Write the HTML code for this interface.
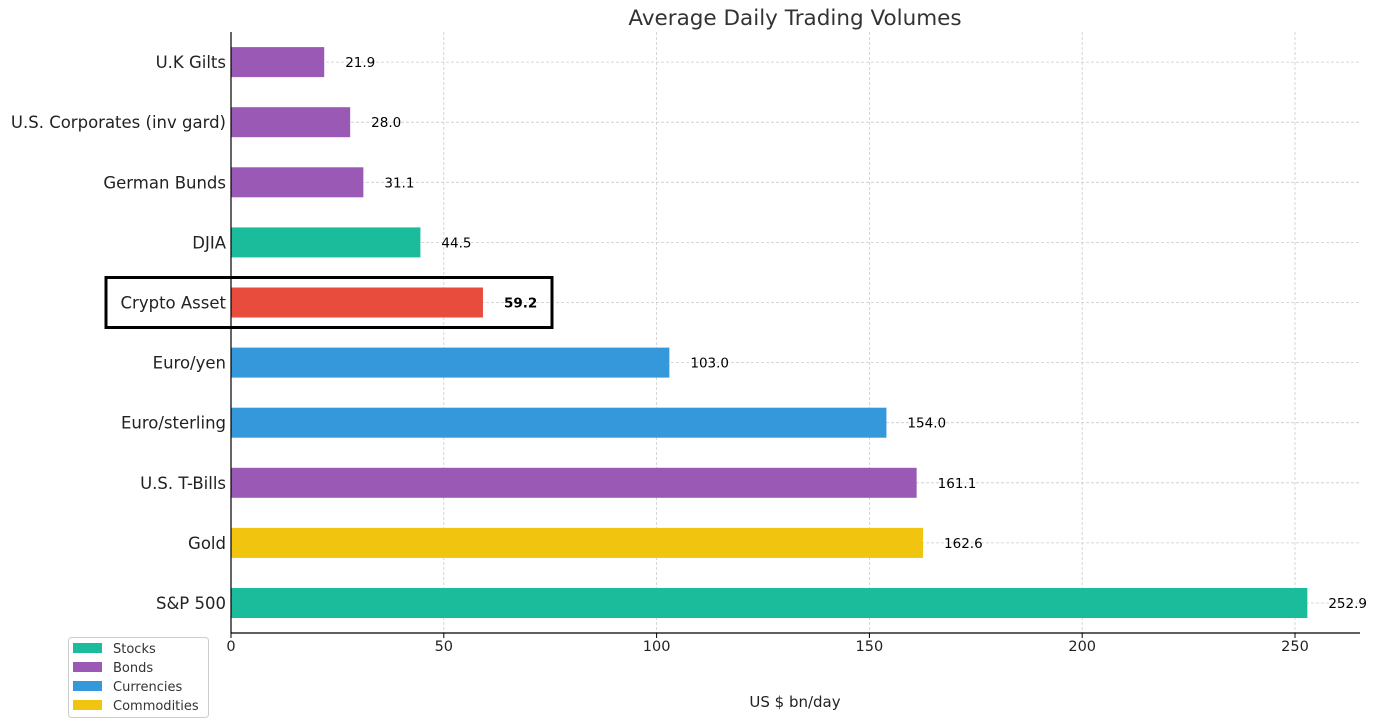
<!DOCTYPE html>
<html><head><meta charset="utf-8"><style>
body{margin:0;background:#fff;}
svg{display:block;font-family:"DejaVu Sans","Liberation Sans",sans-serif;}
</style></head><body>
<svg id="chart" width="1377" height="727">
<text x="795" y="25" text-anchor="middle" font-size="21.5" fill="#333">Average Daily Trading Volumes</text>
<g id="grid"></g><g id="bars"></g>
<line x1="231" y1="32" x2="231" y2="633" stroke="#000" stroke-width="1.2"/>
<line x1="231" y1="633" x2="1360" y2="633" stroke="#000" stroke-width="1.2"/>
<g id="xticks"></g>
<text x="795" y="707" text-anchor="middle" font-size="15" fill="#222">US $ bn/day</text>
<rect x="106" y="277.5" width="446" height="50" fill="none" stroke="#000" stroke-width="3"/>
<g>
<rect x="68.5" y="637.5" width="140" height="80" rx="3" fill="#fff" stroke="#ccc"/>
<g id="legend"></g>
</g>
</svg>
<script>
const categories=["S&P 500","Gold","U.S. T-Bills","Euro/sterling","Euro/yen","Crypto Asset","DJIA","German Bunds","U.S. Corporates (inv gard)","U.K Gilts"];
const values=[252.9,162.6,161.1,154.0,103.0,59.2,44.5,31.1,28.0,21.9];
const groups=["Stocks","Commodities","Bonds","Currencies","Currencies","Crypto","Stocks","Bonds","Bonds","Bonds"];
const xTicks=[0,50,100,150,200,250];
const legendItems=["Stocks","Bonds","Currencies","Commodities"];
const colors={Stocks:"#1abc9c",Bonds:"#9b59b6",Currencies:"#3498db",Commodities:"#f1c40f",Crypto:"#e74c3c"};
const NS="http://www.w3.org/2000/svg";
const x=v=>231+v*(1064/250);
const y=i=>603-i*60.1;
function mk(tag,attrs,parent,txt){const e=document.createElementNS(NS,tag);for(const k in attrs)e.setAttribute(k,attrs[k]);if(txt!==undefined)e.textContent=txt;parent.appendChild(e);return e;}
const grid=document.getElementById('grid'),bars=document.getElementById('bars'),xt=document.getElementById('xticks'),lg=document.getElementById('legend');
xTicks.forEach(t=>{
 const l=mk('line',{x1:x(t),x2:x(t),y1:32,y2:633,stroke:'#ccc','stroke-dasharray':'3,2','stroke-width':0.8},grid);
 
 
 const tk=mk('line',{x1:x(t),x2:x(t),y1:633,y2:638,stroke:'#000'},xt);
 
 
 const tx=mk('text',{x:x(t),y:651,'text-anchor':'middle','font-size':14.5,fill:'#222'},xt,String(t));
 
 
});
categories.forEach((c,i)=>{
 const gl=mk('line',{x1:231,x2:1360,y1:y(i),y2:y(i),stroke:'#ccc','stroke-dasharray':'3,2','stroke-width':0.8},grid);
 
 
 const r=mk('rect',{x:231,y:y(i)-15,width:x(values[i])-231,height:30,fill:colors[groups[i]]},bars);
 
 
 const lb=mk('text',{x:226,y:y(i)+6,'text-anchor':'end','font-size':16.5,fill:'#222'},bars,c);
 
 
 const vl=mk('text',{x:x(values[i])+21,y:y(i)+5,'font-size':13.5,fill:'#000','font-weight':groups[i]==='Crypto'?'bold':'normal'},bars,values[i].toFixed(1));
 
 
});
legendItems.forEach((n,i)=>{
 const yy=648+i*19;
 const s=mk('rect',{x:73,y:yy-5,width:29,height:10,fill:colors[n]},lg);
 
 
 const t=mk('text',{x:113,y:yy+5,'font-size':13,fill:'#333'},lg,n);
 
 
});
</script>
</body></html>
